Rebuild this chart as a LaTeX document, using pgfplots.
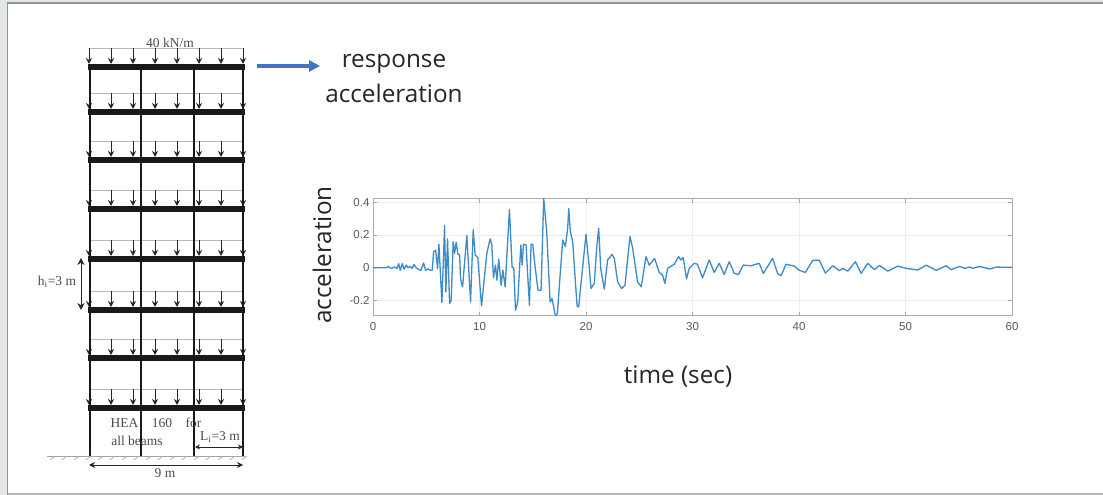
\documentclass[border=0pt]{standalone}
\usepackage{pgfplots}
\pgfplotsset{compat=1.18}
\usepackage{fontspec}
\setmainfont{Liberation Sans}
\newfontfamily\slide{Open Sans}
\newfontfamily\serif{Liberation Serif}
\usetikzlibrary{arrows.meta}
\definecolor{lineblue}{HTML}{3D8BC9}
\definecolor{arrowblue}{HTML}{4472C4}
\definecolor{sidebg}{HTML}{E2E6E6}
\begin{document}
\begin{tikzpicture}[x=1pt,y=1pt]
\path[use as bounding box] (0,0) rectangle (1103,495);
\fill[white] (0,0) rectangle (1103,495);
% slide frame
\fill[sidebg] (0,0) rectangle (7,495);
\fill[sidebg] (0,493) rectangle (1103,495);
\fill[gray!85] (7,491) rectangle (1103,493);
\fill[gray!55] (7,0) rectangle (1103,1.5);
\fill[gray!85] (6.5,0) rectangle (8,493);
\begin{scope}[shift={(0,495)},y=-1pt]
 % load lines and arrows
 \foreach \b in {67,112,160,209,259,310,358,408}{
   \draw[gray!55,line width=0.8pt] (89,\b-19) -- (244,\b-19);
   \foreach \a in {89,111,133,155,177,199,221,243}{
     \draw[black!85,line width=1pt,-{Stealth[length=6pt,width=6pt]}] (\a,\b-19) -- (\a,\b-3);
   }
 }
 % columns
 \foreach \c in {90,141,194,243}{
   \draw[black!90,line width=2.8pt] (\c,67) -- (\c,456);
 }
 % beams
 \foreach \b in {67,112,160,209,259,310,358,408}{
   \draw[black!90,line width=5.2pt] (88,\b) -- (245,\b);
 }
 % ground
 \draw[gray!70,line width=0.7pt] (47,456) -- (245,456);
 \foreach \g in {50,62,...,242}{
   \draw[gray!70,line width=0.6pt] (\g,460) -- (\g+5,456);
 }
 % dimensions
 \draw[black!85,line width=0.9pt,{Stealth[length=6pt,width=6pt]}-{Stealth[length=6pt,width=6pt]}] (89,465) -- (243,465);
 \draw[black!85,line width=0.9pt,{Stealth[length=5pt,width=5pt]}-{Stealth[length=5pt,width=5pt]}] (195,447) -- (243,447);
 \draw[black!85,line width=1pt,{Stealth[length=7pt,width=7pt]}-{Stealth[length=7pt,width=7pt]}] (81,258) -- (81,310);
 \node[text=black!70,font=\serif\fontsize{13.5}{12}\selectfont] at (170,43) {40 kN/m};
 \node[text=black!70,font=\serif\fontsize{13.5}{12}\selectfont] at (57,282) {h\textsubscript{i}=3 m};
 \node[text=black!70,font=\serif\fontsize{13.5}{12}\selectfont] at (156,423) {HEA\ \ \ \ 160\ \ \ \ for};
 \node[text=black!70,font=\serif\fontsize{13.5}{12}\selectfont] at (137,441) {all beams};
 \node[text=black!70,font=\serif\fontsize{13.5}{12}\selectfont] at (220,437) {L\textsubscript{i}=3 m};
 \node[text=black!70,font=\serif\fontsize{13.5}{12}\selectfont] at (165,473) {9 m};
 % blue arrow
 \draw[arrowblue,line width=3.6pt,-{Triangle[length=11pt,width=11pt]}] (257,66) -- (320,66);
 % slide text
 \node[text=black!85,font=\slide\fontsize{24.3}{24}\selectfont] at (394,64) {response};
 \node[text=black!85,font=\slide\fontsize{24.3}{24}\selectfont] at (394,93) {acceleration};
 \node[text=black!85,font=\slide\fontsize{24.3}{24}\selectfont] at (678,377) {time (sec)};
 \node[text=black!85,rotate=90,font=\slide\fontsize{24.3}{24}\selectfont] at (322,255) {acceleration};
\end{scope}
\begin{axis}[
  at={(373pt,179pt)},anchor=south west,
  width=639pt,height=117pt,scale only axis,
  xmin=0,xmax=60,ymin=-0.295,ymax=0.42,
  xtick={0,10,...,60},ytick={-0.2,0,0.2,0.4},
  xticklabels={0,10,20,30,40,50,60},
  yticklabels={-0.2,0,0.2,0.4},
  grid=major,grid style={gray!14,line width=0.6pt},
  axis line style={gray!65,line width=1pt},
  tick style={gray!70,line width=0.6pt},
  major tick length=4pt,tick align=inside,
  /pgf/number format/assume math mode=true,
  xticklabel style={font=\fontsize{11.5}{12}\selectfont,text=black!65,yshift=-3pt},
  yticklabel style={font=\fontsize{11.5}{12}\selectfont,text=black!65},
  clip=true,
]
\addplot[lineblue,line width=1.3pt,line join=round] table {
0 0
1.25 0
1.41 .008
1.72 -.004
2.03 .004
2.25 -.004
2.41 .025
2.56 -.016
2.75 .025
2.91 -.008
3.13 .016
3.31 0
3.5 .008
3.69 -.004
3.84 .02
4.06 0
4.31 -.012
4.5 -.016
4.75 .029
4.94 -.016
5.16 -.008
5.38 -.016
5.56 -.016
5.69 .098
5.88 .107
6.06 -.004
6.19 .144
6.47 -.213
6.72 .258
6.84 -.148
7.0 .176
7.19 -.219
7.34 -.199
7.53 .160
7.66 .088
7.81 .156
7.97 .082
8.13 .078
8.22 -.066
8.41 -.117
8.81 .197
9.16 -.209
9.41 .232
9.59 .078
9.84 .062
10.19 -.234
10.69 .088
11.0 .176
11.16 .139
11.31 -.062
11.5 .016
11.63 -.076
11.81 .053
12.03 -.107
12.19 -.014
12.41 -.117
12.81 .355
13.06 .006
13.22 -.004
13.38 -.260
13.59 -.209
13.88 .139
14.0 .016
14.13 .144
14.38 .139
14.47 .016
14.69 -.230
14.84 .144
15.0 .144
15.22 .006
15.5 -.138
15.78 -.138
16.03 .423
16.31 .222
16.63 -.209
16.81 -.189
17.13 -.295
17.31 -.281
17.81 .170
18.06 .129
18.28 .242
18.38 .361
18.53 .221
18.75 .160
19.16 -.234
19.31 -.240
20.0 .205
20.31 -.004
20.47 -.127
20.78 -.096
21.0 .119
21.19 .242
21.38 -.004
21.72 -.131
22.03 .047
22.44 .082
22.66 .057
22.97 -.086
23.34 -.127
23.66 -.107
24.13 .191
24.38 .119
24.84 -.086
25.19 -.117
25.63 .068
25.94 .016
26.44 .057
26.88 -.029
27.19 -.045
27.41 -.096
27.66 -.004
28.28 .021
28.69 .068
28.91 .047
29.13 .062
29.44 -.068
29.69 -.004
30.16 .027
30.47 .021
30.94 -.062
31.57 .047
32.04 -.029
32.51 .027
32.98 -.041
33.45 .037
33.92 -.035
34.33 -.041
34.76 .016
35.49 .012
36.27 .027
36.65 -.035
37.52 .057
37.99 -.035
38.31 -.049
38.78 .021
39.56 .010
39.97 -.014
40.6 -.029
41.29 .045
41.91 .045
42.48 -.033
43.17 .012
43.79 -.018
44.11 -.004
44.58 -.021
45.3 .037
45.83 -.035
46.46 .027
47.08 -.012
47.55 .014
48.34 -.021
49.28 .010
50.06 -.004
51.16 -.014
51.94 .016
52.88 -.016
53.82 .012
54.29 -.012
55.08 .008
55.55 -.004
56.02 .004
56.33 -.004
56.96 .008
57.9 -.008
58.53 .004
60 .002
};
\end{axis}
\end{tikzpicture}
\end{document}
